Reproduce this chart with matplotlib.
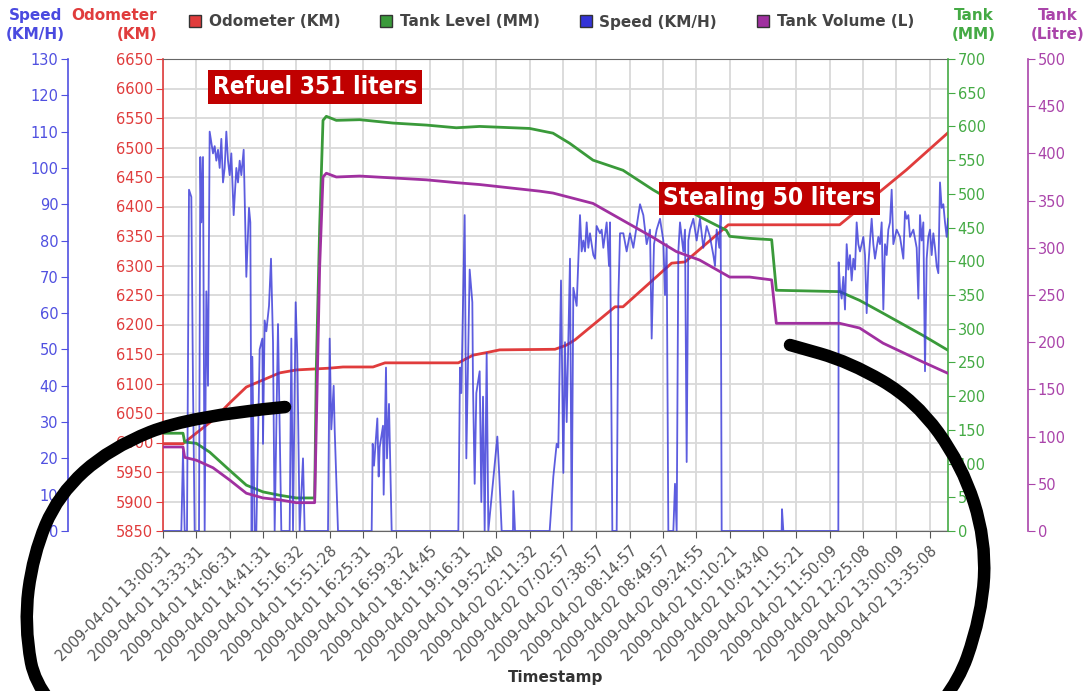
import matplotlib.pyplot as plt
from matplotlib.lines import Line2D
from matplotlib.path import Path
from matplotlib.patches import PathPatch
from matplotlib.transforms import Affine2D

RED = "#e03c3c"
GREEN = "#3a9a3a"
BLUE = "#3434d8"
PURPLE = "#a030a0"

TIMESTAMPS = [
    "2009-04-01 13:00:31", "2009-04-01 13:33:31", "2009-04-01 14:06:31",
    "2009-04-01 14:41:31", "2009-04-01 15:16:32", "2009-04-01 15:51:28",
    "2009-04-01 16:25:31", "2009-04-01 16:59:32", "2009-04-01 18:14:45",
    "2009-04-01 19:16:31", "2009-04-01 19:52:40", "2009-04-02 02:11:32",
    "2009-04-02 07:02:57", "2009-04-02 07:38:57", "2009-04-02 08:14:57",
    "2009-04-02 08:49:57", "2009-04-02 09:24:55", "2009-04-02 10:10:21",
    "2009-04-02 10:43:40", "2009-04-02 11:15:21", "2009-04-02 11:50:09",
    "2009-04-02 12:25:08", "2009-04-02 13:00:09", "2009-04-02 13:35:08",
]
# x values are sample numbers, one timestamp label every 10 samples
N_SAMPLES = 235.5

odo_idx = [0, 6, 10, 15, 20, 25, 30, 35, 40, 50, 54, 63, 66.6, 88.6, 93, 97.6,
           101, 117.6, 121, 123.6, 135.6, 138, 152.6, 156.6, 169.6, 176, 203,
           223, 235.5]
odo_km = [5998, 5998, 6016, 6038, 6067, 6094, 6106, 6118, 6123, 6126, 6128,
          6128, 6135, 6135, 6148, 6153, 6157, 6158, 6165, 6174, 6230, 6230,
          6304, 6306, 6369, 6369, 6369, 6462, 6525]

lvl_idx = [0, 6, 6.5, 10, 14, 20, 25, 30, 35, 40, 45.5, 46, 47, 48, 49, 52, 59,
           69, 79, 88, 95, 110, 117, 122, 129, 138, 147, 161, 169, 170, 176,
           182.6, 184, 203, 209, 216, 228, 235.5]
lvl_mm = [145, 145, 132, 130, 117, 90, 68, 58, 53, 49, 49, 243, 451, 609, 615,
          609, 610, 605, 602, 598, 600, 597, 590, 575, 550, 535, 506, 466, 446,
          437, 434, 432, 357, 355, 342, 323, 290, 268]

vol_idx = [0, 6, 6.5, 10, 15, 20, 25, 30, 35, 40, 45.5, 47, 48, 49, 52, 59, 69,
           79, 88, 95, 113, 117, 129, 138, 147, 154, 161, 169, 170, 176, 182.6,
           184, 203, 209, 216, 228, 235.5]
vol_l = [89, 89, 78, 75, 67, 54, 40, 35, 33, 30, 30, 280, 375, 379, 375, 376,
         374, 372, 369, 367, 360, 358, 347, 329, 311, 296, 287, 271, 269, 269,
         266, 220, 220, 215, 199, 179, 167]

speed_idx = [
    0, 5.5, 6, 6.5, 7.2, 7.8, 8.5, 9, 9.5, 10.8, 11.2, 11.5, 12, 12.5, 13, 13.5,
    14, 14.5, 15, 15.5, 16, 16.5, 17, 17.5, 18, 18.5, 19, 19.5, 20, 20.5, 21,
    21.2, 22, 22.5, 23, 23.5, 24.2, 24.5, 25, 25.8, 26.2, 26.6, 26.8, 27.5, 28,
    29, 29.8, 30, 30.5, 31, 31.8, 32.4, 33, 33.5, 34.5, 35.5, 38, 38.5, 39,
    39.8, 40.3, 41, 42, 42.5, 49.5, 50, 50.5, 51.2, 51.5, 52.5,
    62.6, 62.9, 63.3, 64.3, 64.7, 65, 66, 66.2, 66.9, 67.2, 67.8, 68.6, 88.6,
    89.1, 89.5, 90.5, 91, 92, 92.8, 93, 93.5, 94, 95, 95.5, 96, 96.5, 97.1,
    97.6, 100.3, 100.9, 101.6, 105, 105.1, 105.6, 116, 116.6, 117.1, 118.1,
    118.6, 119.4, 120.1, 120.6, 121.1, 122.1, 122.6, 123.1, 124.1, 125.1,
    125.6, 126.1, 126.6, 127.1, 127.6, 128.1, 129.1, 129.6, 130.1, 131.1,
    131.6, 132.1, 133.1, 133.8, 134.1, 134.8, 136.1, 136.6, 137.1, 138.1,
    139.1, 140.1, 141.1, 142.1, 143.1, 144.1, 145.1, 146.1, 146.6, 147.3,
    148.1, 149.1, 150.1, 150.6, 151.1, 151.6, 153.1, 153.6, 154.1, 154.6,
    155.1, 156.1, 156.6, 157.1, 157.6, 158.1, 159.1, 160.1, 161.1, 162.1,
    163.1, 164.1, 165.1, 165.6, 166.1, 166.9, 167.3, 167.6, 185.6, 185.7,
    186.1, 202.6, 202.7, 203.1, 203.6, 204.1, 204.6, 205.1, 205.6, 206.1,
    206.6, 207.1, 207.6, 208.1, 208.6, 209.1, 210.1, 210.6, 211.1, 211.6,
    212.1, 212.6, 213.1, 213.6, 214.6, 215.1, 215.6, 216.1, 216.6, 217.1,
    217.6, 218.1, 218.6, 219.1, 220.1, 221.1, 222.1, 222.6, 223.1, 223.6,
    224.1, 225.1, 226.1, 226.6, 227.1, 227.6, 228.1, 228.6, 229.1, 229.6,
    230.1, 230.6, 231.1, 231.6, 232.1, 232.6, 233.1, 233.6, 234.1, 234.6,
    235.1, 235.5,
]
speed_kmh = [
    0, 0, 22, 0, 0, 94, 92, 40, 0, 0, 103, 85, 103, 0, 66, 40,
    110, 107, 104, 106, 102, 105, 100, 108, 96, 100, 110, 102, 98, 104, 92,
    87, 100, 96, 102, 98, 105, 92, 70, 89, 85, 0, 48, 0, 0,
    50, 53, 24, 58, 55, 62, 75, 52, 0, 57, 0, 0, 53, 0,
    63, 48, 0, 20, 0, 0, 53, 28, 40, 28, 0,
    0, 24, 18, 31, 15, 23, 29, 10, 45, 20, 35, 0, 0,
    45, 38, 87, 20, 72, 63, 40, 13, 38, 44, 8, 37, 0, 49,
    0, 26, 15, 0, 0, 11, 0, 0, 8, 15, 24,
    23, 69, 16, 52, 30, 75, 0, 67, 62, 87,
    77, 80, 77, 85, 78, 82, 76, 75, 84, 82,
    83, 78, 85, 73, 85, 0, 0, 64, 82, 82,
    77, 82, 78, 84, 90, 87, 79, 83, 53, 79,
    83, 86, 80, 65, 79, 0, 0, 13, 0, 77,
    85, 77, 83, 19, 80, 83, 86, 80, 86, 78,
    84, 81, 76, 73, 83, 78, 87, 0, 0, 6,
    0, 0, 74, 67, 64, 70, 61, 79, 72, 76,
    69, 75, 72, 85, 79, 77, 81, 76, 60, 73,
    80, 86, 79, 75, 81, 79, 85, 61, 79, 76,
    83, 85, 94, 79, 83, 81, 75, 88, 86, 87,
    81, 83, 78, 64, 87, 80, 85, 44, 75, 81,
    83, 76, 82, 78, 73, 71, 96, 89, 90, 85,
    81, 86,
]

# hand-drawn black loop over the picture, figure pixels (y down)
loop_px = [(285, 407), (190, 416), (110, 448), (58, 495), (33, 555), (24, 625),
           (38, 700), (150, 790), (500, 820), (850, 790), (952, 700),
           (982, 615), (986, 540), (962, 465), (915, 400), (850, 362), (790, 345)]

plt.rcParams["font.family"] = "DejaVu Sans"

W, H = 1089, 691
PT = 0.72  # points per pixel at dpi 100
fig = plt.figure(figsize=(W / 100, H / 100), dpi=100)
ax = fig.add_axes([163 / W, 1 - 531 / H, 785 / W, 472 / H])

ax.plot(odo_idx, odo_km, color=RED, lw=2, zorder=3)
ax.set_xlim(0, N_SAMPLES)
ax.set_ylim(5850, 6650)
ax.set_yticks(range(5850, 6651, 50))
ax.set_xticks(range(0, 231, 10))
ax.set_xticklabels(TIMESTAMPS, rotation=45, ha="right", va="top",
                   rotation_mode="anchor")
ax.grid(True, color="#d9d9d9", lw=1.3)
ax.set_axisbelow(True)
ax.tick_params(axis="y", colors=RED, length=5, labelsize=10.5, pad=2)
ax.tick_params(axis="x", colors="#555555", length=5, labelsize=10.5, pad=4)
ax.spines["left"].set_color(RED)
ax.spines["bottom"].set_color("#666666")
ax.spines["top"].set_color("#666666")
ax.spines["right"].set_visible(False)
ax.set_xlabel("Timestamp", fontsize=11, fontweight="bold", color="#333333",
              labelpad=4)

ax_lvl = ax.twinx()
ax_lvl.plot(lvl_idx, lvl_mm, color=GREEN, lw=2)
ax_lvl.set_ylim(0, 700)
ax_lvl.set_yticks(range(0, 701, 50))

ax_spd = ax.twinx()
ax_spd.plot(speed_idx, speed_kmh, color=BLUE, lw=1.3, alpha=0.8)
ax_spd.set_ylim(0, 130)
ax_spd.set_yticks(range(0, 131, 10))
ax_spd.yaxis.set_ticks_position("left")
ax_spd.spines["left"].set_position(("outward", 95 * PT))

ax_vol = ax.twinx()
ax_vol.plot(vol_idx, vol_l, color=PURPLE, lw=2)
ax_vol.set_ylim(0, 500)
ax_vol.set_yticks(range(0, 501, 50))
ax_vol.spines["right"].set_position(("outward", 80 * PT))

for a, side, col in [(ax_lvl, "right", "#44aa44"), (ax_spd, "left", "#5050e0"),
                     (ax_vol, "right", "#aa44aa")]:
    for s in ("top", "bottom", "left", "right"):
        a.spines[s].set_visible(s == side)
    a.spines[side].set_color(col)
    a.spines[side].set_linewidth(1.2)
    a.tick_params(axis="y", colors=col, length=5, labelsize=10.5, pad=2)
    a.set_xlim(0, N_SAMPLES)
ax.spines["left"].set_linewidth(1.2)

# axis titles
fig.text(65 / W, 1 - 25 / H, "Speed\n(KM/H)", color="#4a4ae0", fontsize=11,
         fontweight="bold", ha="right", va="center", ma="center", linespacing=1.3)
fig.text(157 / W, 1 - 25 / H, "Odometer\n(KM)", color=RED, fontsize=11,
         fontweight="bold", ha="right", va="center", ma="right", linespacing=1.3)
fig.text(974 / W, 1 - 25 / H, "Tank\n(MM)", color="#44aa44", fontsize=11,
         fontweight="bold", ha="center", va="center", linespacing=1.3)
fig.text(1058 / W, 1 - 25 / H, "Tank\n(Litre)", color="#aa44aa", fontsize=11,
         fontweight="bold", ha="center", va="center", linespacing=1.3)

# legend
names = ["Odometer (KM)", "Tank Level (MM)", "Speed (KM/H)", "Tank Volume (L)"]
cols = [RED, GREEN, BLUE, PURPLE]
handles = [Line2D([], [], ls="none", marker="s", markersize=9, markerfacecolor=c,
                  markeredgecolor="#333333", markeredgewidth=1) for c in cols]
leg = fig.legend(handles, names, ncol=4, loc="center left",
                 bbox_to_anchor=(189 / W, 1 - 22 / H), frameon=False,
                 handlelength=0.8, handletextpad=0.5, columnspacing=2.6,
                 borderaxespad=0, borderpad=0,
                 prop={"weight": "bold", "size": 11})
for t in leg.get_texts():
    t.set_color("#444444")

# callouts
box = dict(boxstyle="square,pad=0.2", facecolor="#c00000", edgecolor="none")
ax.text(0.194, 0.94, "Refuel 351 liters", transform=ax.transAxes, color="white",
        fontsize=17.5, fontweight="bold", fontstretch="condensed",
        ha="center", va="center", bbox=box, zorder=10)
ax_vol.text(0.7726, 0.7045, "Stealing 50 liters", transform=ax.transAxes,
            color="white", fontsize=17.5, fontweight="bold",
            fontstretch="condensed", ha="center", va="center", bbox=box,
            zorder=10)

# black marker loop
verts = [loop_px[0]]
codes = [Path.MOVETO]
for i in range(1, len(loop_px) - 1):
    p, q = loop_px[i], loop_px[i + 1]
    verts += [p, ((p[0] + q[0]) / 2, (p[1] + q[1]) / 2)]
    codes += [Path.CURVE3, Path.CURVE3]
verts.append(loop_px[-1])
codes.append(Path.LINETO)
to_fig = Affine2D().scale(1 / W, -1 / H).translate(0, 1) + fig.transFigure
fig.add_artist(PathPatch(Path(verts, codes), facecolor="none", edgecolor="black",
                         lw=9, capstyle="round", transform=to_fig, zorder=20))

fig.savefig("out.png", dpi=100, facecolor="white")
